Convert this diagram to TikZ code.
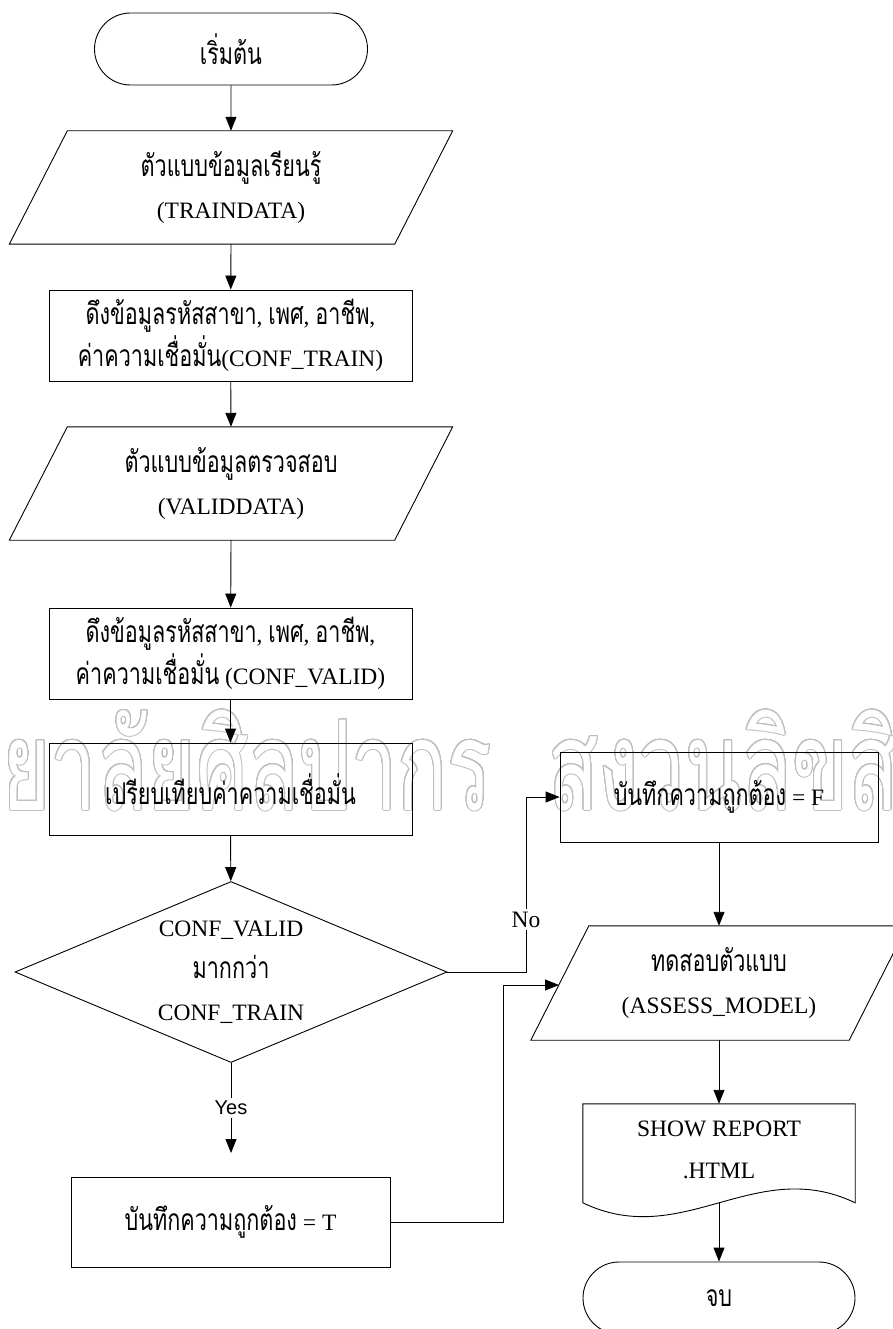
\documentclass[tikz,border=0pt]{standalone}
\usepackage{fontspec}
\setmainfont{Liberation Serif}
\newfontfamily\thaifont[Script=Thai, FakeStretch=0.72]{Loma}
\newfontfamily\wmfont[Script=Thai, FakeStretch=0.66]{Loma}
\newfontfamily\labelsans{Liberation Sans}
\usepackage{contour}
\contourlength{1pt}
\contournumber{32}
\usetikzlibrary{shapes.misc,shapes.geometric,arrows.meta,calc}

% Thai runs inside mixed lines
\newcommand\tha[1]{{\thaifont\fontsize{30}{42}\selectfont #1}}
% slanted input/output outline around a text node
\newcommand\ioshape[2]{%
  \draw[flow] ($(#1.north west)+(#2,0)$) -- ($(#1.north east)+(#2,0)$)
    -- ($(#1.south east)-(#2,0)$) -- ($(#1.south west)-(#2,0)$) -- cycle;}

\begin{document}
\begin{tikzpicture}[x=1pt,y=-1pt,
  every node/.style={font=\fontsize{23.5}{42}\selectfont, inner sep=0pt},
  flow/.style={line width=0.9pt, draw=black},
  arr/.style={flow, -{Triangle[length=14pt,width=11pt]}},
  term/.style={flow, rounded rectangle, minimum width=273pt, minimum height=72pt},
  proc/.style={flow, rectangle, align=center, minimum width=363pt, minimum height=91pt},
  iobox/.style={align=center, minimum height=113pt},
  decision/.style={flow, diamond, minimum width=432pt, minimum height=181pt},
  lab/.style={fill=white, inner sep=3pt},
  wm/.style={font=\wmfont\fontsize{125}{125}\selectfont, inner sep=0pt},
]
% page
\fill[white] (0,0) rectangle (893,1329);
\useasboundingbox (0,0) rectangle (893,1329);

% watermark
\node[wm, anchor=base east] (wmleft) at (492,810)
  {{\color{white}\contour{black!25}{มหาวิทยาลัยศิลปากร}}};
\node[wm, anchor=base west] (wmright) at (548,810)
  {{\color{white}\contour{black!25}{สงวนลิขสิทธิ์}}};

% left column
\node[term] (start) at (231,49) {\tha{เริ่มต้น}};

\node[iobox, minimum width=385pt] (train) at (231,187.5)
  {\tha{ตัวแบบข้อมูลเรียนรู้}\\(TRAINDATA)};
\ioshape{train}{29}

\node[proc] (getT) at (230.5,335.5)
  {\tha{ดึงข้อมูลรหัสสาขา}, \tha{เพศ}, \tha{อาชีพ},\\\tha{ค่าความเชื่อมั่น}(CONF\_TRAIN)};

\node[iobox, minimum width=385pt] (valid) at (231,483.5)
  {\tha{ตัวแบบข้อมูลตรวจสอบ}\\(VALIDDATA)};
\ioshape{valid}{29}

\node[proc] (getV) at (230.5,653.5)
  {\tha{ดึงข้อมูลรหัสสาขา}, \tha{เพศ}, \tha{อาชีพ},\\\tha{ค่าความเชื่อมั่น} (CONF\_VALID)};

\node[proc, minimum height=92pt] (cmp) at (230.5,789) {\tha{เปรียบเทียบค่าความเชื่อมั่น}};

\node[decision] (dec) at (231,972) {};
\node[align=center] (dectext) at (dec.center)
  {CONF\_VALID\\\tha{มากกว่า}\\CONF\_TRAIN};

\coordinate (yesend) at (231,1153);
\node[proc, minimum width=319pt, minimum height=90pt] (setT) at (230.5,1222)
  {\tha{บันทึกความถูกต้อง} = T};

% right column
\node[proc, minimum width=318pt, minimum height=90pt] (setF) at (719,797)
  {\tha{บันทึกความถูกต้อง} = F};

\node[iobox, minimum width=318pt, minimum height=114pt] (assess) at (719,983)
  {\tha{ทดสอบตัวแบบ}\\(ASSESS\_MODEL)};
\ioshape{assess}{29}

\node[align=center, minimum width=272pt, minimum height=92pt] (report) at (719,1150)
  {SHOW REPORT\\.HTML};
\draw[flow] (report.north west) -- (report.north east)
  -- ($(report.north east)+(0,99)$)
  .. controls ($(report.north east)+(-100,51)$) and ($(report.north west)+(100,147)$)
  .. ($(report.north west)+(0,99)$) -- cycle;

\node[term, minimum width=272pt] (stop) at (719,1298) {\tha{จบ}};

% connectors
\draw[arr] (start) -- (train.north);
\draw[arr] (train.south) -- (getT);
\draw[arr] (getT) -- (valid.north);
\draw[arr] (valid.south) -- (getV);
\draw[arr] (getV) -- (cmp);
\draw[arr] (cmp) -- (dec);
\draw[arr] (dec.south) -- node[lab, font=\labelsans\fontsize{20}{24}\selectfont] (yes) {Yes} (yesend);

\coordinate (nobend) at (526,972);
\draw[arr] (dec.east) -- (nobend) |- node[lab, pos=0.15] (no) {No} (setF.west);

\coordinate (tbend) at (503,1222);
\coordinate (assessin) at (559,985);
\draw[arr] (setT.east) -- (tbend) |- (assessin);

\draw[arr] (setF) -- (assess.north);
\draw[arr] (assess.south) -- (report.north);
\coordinate (reportout) at (719,1203);
\draw[arr] (reportout) -- (stop);
\end{tikzpicture}
\end{document}
